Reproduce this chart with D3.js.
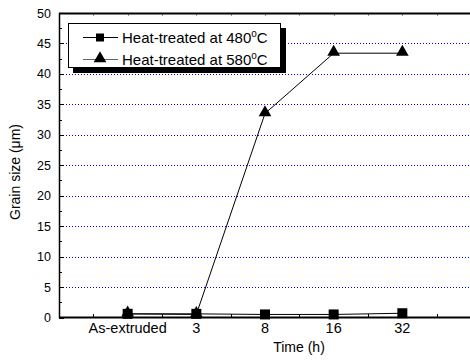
<!DOCTYPE html>
<meta charset="utf-8">
<html lang="en">
  <head>
    <style>
      body { margin: 0; background: #fff; }
      text { font-family: "Liberation Sans", Arial, sans-serif; fill: #000; }
      .grid line { stroke: #0000ff; stroke-width: 1px; stroke-dasharray: 1,2; }
      .series { fill: none; stroke: #000; stroke-width: 1px; }
    </style>
  </head>
  <body>
    <script src="https://d3js.org/d3.v7.min.js"></script>
    <svg></svg>
    <script>

      var categories = ["As-extruded", "3", "8", "16", "32"];
      var heat480 = [0.6, 0.6, 0.5, 0.5, 0.7];
      var heat580 = [0.6, 0.5, 33.5, 43.4, 43.4];
      var seriesNames = ["Heat-treated at 480", "Heat-treated at 580"];
      var yTicks = [0, 5, 10, 15, 20, 25, 30, 35, 40, 45, 50];

      var width = 470, height = 361;

      var svg = d3.select("svg")
        .attr("width", width)
        .attr("height", height);

      var xScale = d3.scaleLinear()
        .domain([0, categories.length + 1])
        .range([59, 471]);

      var yScale = d3.scaleLinear()
        .domain([0, 50])
        .range([317.5, 13]);

      // grid lines
      svg.append("g").attr("class", "grid")
        .selectAll("line")
        .data(yTicks.filter(function(d) { return d > 0 && d < 50; }))
        .enter().append("line")
        .attr("x1", 60).attr("x2", width)
        .attr("y1", function(d) { return Math.round(yScale(d)) + 0.5; })
        .attr("y2", function(d) { return Math.round(yScale(d)) + 0.5; });

      // y ticks (inward)
      var yMinor = d3.range(0, 50.1, 2.5);
      svg.append("g").selectAll("line")
        .data(yMinor)
        .enter().append("line")
        .attr("x1", 59).attr("x2", function(d, i) { return i % 2 == 0 ? 64 : 62; })
        .attr("y1", function(d) { return Math.round(yScale(d)) + 0.5; })
        .attr("y2", function(d) { return Math.round(yScale(d)) + 0.5; })
        .attr("stroke", "#000");

      svg.append("g").selectAll("text")
        .data(yTicks)
        .enter().append("text")
        .attr("x", 51)
        .attr("y", function(d) { return yScale(d) + 4.5; })
        .attr("text-anchor", "end")
        .style("font-size", "12.5px")
        .text(function(d) { return d; });

      // x ticks top & bottom (inward)
      var xMinor = d3.range(0, categories.length + 1.01, 0.5);
      svg.append("g").selectAll("line")
        .data(xMinor)
        .enter().append("line")
        .attr("x1", function(d) { return Math.round(xScale(d)) + 0.5; })
        .attr("x2", function(d) { return Math.round(xScale(d)) + 0.5; })
        .attr("y1", 317).attr("y2", function(d) { return d % 1 == 0 ? 312 : 314; })
        .attr("stroke", "#000");
      svg.append("g").selectAll("line")
        .data(xMinor)
        .enter().append("line")
        .attr("x1", function(d) { return Math.round(xScale(d)) + 0.5; })
        .attr("x2", function(d) { return Math.round(xScale(d)) + 0.5; })
        .attr("y1", 14).attr("y2", 16)
        .attr("stroke", "#999");

      svg.append("g").selectAll("text")
        .data(categories)
        .enter().append("text")
        .attr("x", function(d, i) { return xScale(i + 1); })
        .attr("y", 333)
        .attr("text-anchor", "middle")
        .style("font-size", "14.5px")
        .text(function(d) { return d; });

      // axes frame
      svg.append("line").attr("x1", 59.5).attr("x2", 59.5).attr("y1", 13).attr("y2", 318)
        .attr("stroke", "#000").attr("stroke-width", 1.5);
      svg.append("line").attr("x1", 59).attr("x2", width).attr("y1", 317.5).attr("y2", 317.5)
        .attr("stroke", "#000").attr("stroke-width", 2);
      svg.append("line").attr("x1", 59).attr("x2", width).attr("y1", 13.5).attr("y2", 13.5)
        .attr("stroke", "#000").attr("stroke-width", 2);

      // axis titles
      svg.append("text")
        .attr("transform", "translate(20,172) rotate(-90)")
        .attr("text-anchor", "middle")
        .style("font-size", "14px")
        .text("Grain size (\u03bcm)");
      svg.append("text")
        .attr("x", 299).attr("y", 352)
        .attr("text-anchor", "middle")
        .style("font-size", "14px")
        .text("Time (h)");

      var line = d3.line()
        .x(function(d, i) { return xScale(i + 1); })
        .y(function(d) { return yScale(d); });

      var tri = d3.symbol().type(d3.symbolTriangle).size(70);

      // 580 series
      svg.append("path").attr("class", "series").attr("d", line(heat580));
      svg.append("g").selectAll("path")
        .data(heat580)
        .enter().append("path")
        .attr("d", tri)
        .attr("transform", function(d, i) { return "translate(" + xScale(i + 1) + "," + (yScale(d) - 1) + ")"; })
        .attr("fill", "#000");

      // 480 series
      svg.append("path").attr("class", "series").attr("d", line(heat480));
      svg.append("g").selectAll("rect")
        .data(heat480)
        .enter().append("rect")
        .attr("x", function(d, i) { return xScale(i + 1) - 5; })
        .attr("y", function(d) { return yScale(d) - 5; })
        .attr("width", 10).attr("height", 10)
        .attr("fill", "#000");

      // legend
      var lg = svg.append("g");
      lg.append("rect").attr("x", 73).attr("y", 28).attr("width", 213).attr("height", 45).attr("fill", "#000");
      lg.append("rect").attr("x", 68.5).attr("y", 23.5).attr("width", 212).attr("height", 44)
        .attr("fill", "#fff").attr("stroke", "#000").attr("stroke-width", 1);

      var rows = [37, 59];
      seriesNames.forEach(function(name, i) {
        lg.append("line").attr("x1", 83).attr("x2", 118)
          .attr("y1", rows[i] + 0.5).attr("y2", rows[i] + 0.5)
          .attr("stroke", i == 0 ? "#000" : "#666");
        if (i == 0) {
          lg.append("rect").attr("x", 96).attr("y", rows[i] - 3.5).attr("width", 8).attr("height", 8).attr("fill", "#000");
        } else {
          lg.append("path").attr("d", tri).attr("transform", "translate(100," + (rows[i] - 0.5) + ")").attr("fill", "#000");
        }
        var t = lg.append("text").attr("x", 122).attr("y", rows[i] + 5.5).style("font-size", "15px");
        t.append("tspan").text(name);
        t.append("tspan").attr("dy", -6).style("font-size", "10px").text("o");
        t.append("tspan").attr("dy", 6).text("C");
      });

    </script>
  </body>
</html>
